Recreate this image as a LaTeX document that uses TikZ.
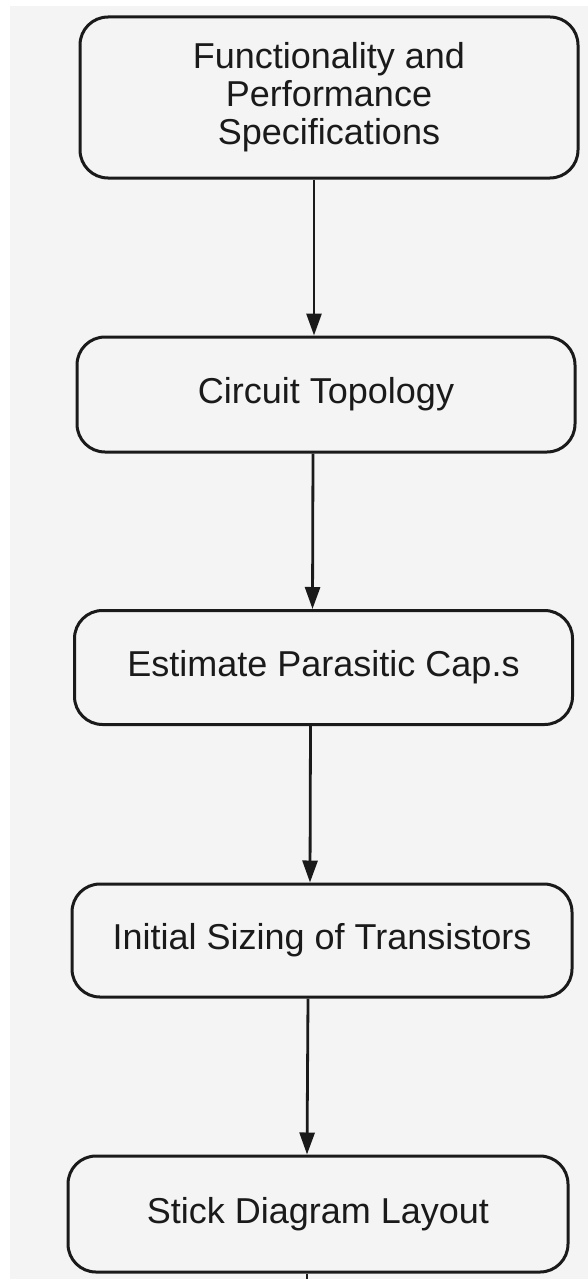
\documentclass[tikz,border=0pt]{standalone}
\usepackage{fontspec}
\setmainfont{Liberation Sans}
\usetikzlibrary{arrows.meta}
\definecolor{paper}{HTML}{F4F4F4}
\definecolor{ink}{HTML}{1A1A1A}
\tikzset{
  stepbox/.style={draw=ink, text=ink, line width=3pt, rounded corners=28pt, inner sep=0pt,
    font=\fontsize{36}{38}\selectfont, align=center},
  flow/.style={draw=ink, line width=2.8pt, -{Triangle[length=22pt,width=15pt]}},
  plain/.style={draw=ink, line width=2.8pt}
}
\begin{document}
\begin{tikzpicture}[x=1pt,y=-1pt]
\useasboundingbox (0,0) rectangle (588,1279);
\fill[white] (0,0) rectangle (588,1279);
\fill[paper] (10,6) rectangle (588,1279);
\node[stepbox, minimum width=498pt, minimum height=161pt] (b1) at (329,97.5)
  {Functionality and\\Performance\\Specifications};
\node[stepbox, minimum width=498pt, minimum height=115pt] (b2) at (326,394.5)
  {Circuit Topology};
\node[stepbox, minimum width=498pt, minimum height=114pt] (b3) at (323.5,667.5)
  {Estimate Parasitic Cap.s};
\node[stepbox, minimum width=500pt, minimum height=113pt] (b4) at (322,940.5)
  {Initial Sizing of Transistors};
\node[stepbox, minimum width=500pt, minimum height=116pt] (b5) at (318,1214)
  {Stick Diagram Layout};
\coordinate (tail) at (307,1279);
\draw[flow] ([xshift=-15pt]b1.south) -- ([xshift=-12pt]b2.north);
\draw[flow] ([xshift=-13pt]b2.south) -- ([xshift=-11pt]b3.north);
\draw[flow] ([xshift=-13pt]b3.south) -- ([xshift=-12pt]b4.north);
\draw[flow] ([xshift=-14pt]b4.south) -- ([xshift=-11pt]b5.north);
\draw[plain] ([xshift=-11pt]b5.south) -- (tail);
\end{tikzpicture}
\end{document}
